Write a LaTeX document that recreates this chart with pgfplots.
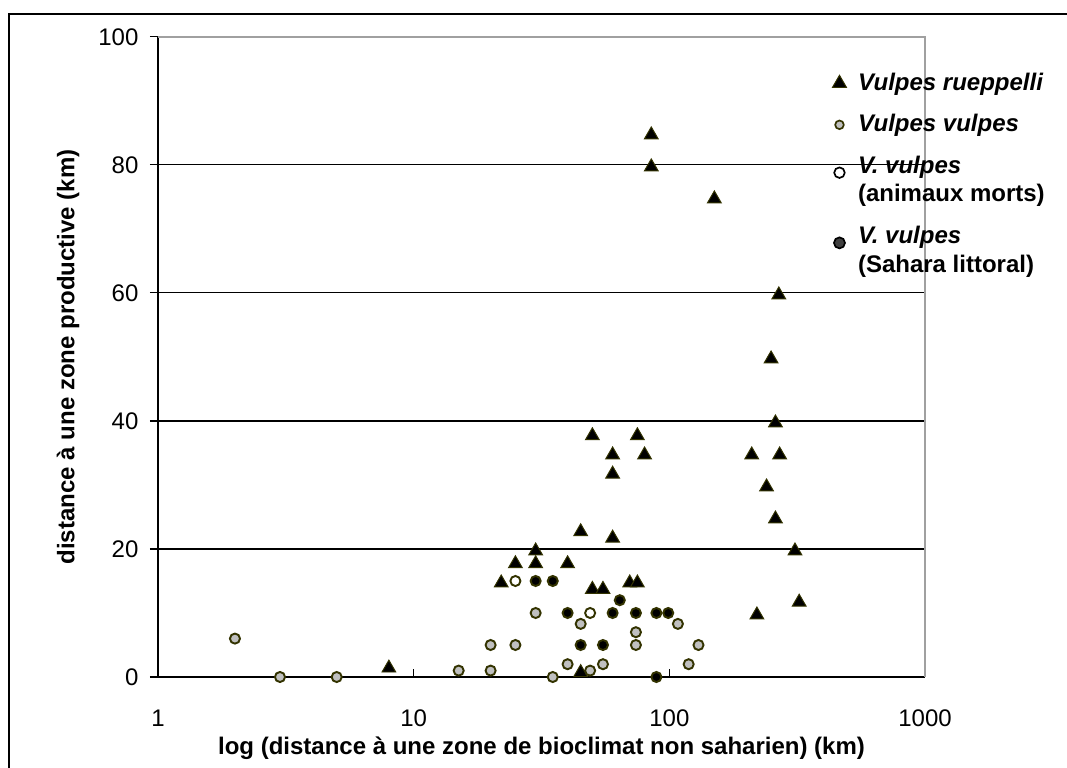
\documentclass[border=0pt]{standalone}
\usepackage{pgfplots}
\pgfplotsset{compat=1.18}
\usepackage{fontspec}
\setmainfont{Liberation Sans}
\definecolor{olivedk}{HTML}{333300}
\definecolor{lgray}{HTML}{C0C0C0}
\definecolor{framegray}{HTML}{A0A0A0}
\pgfplotsset{
  legimg/.style={legend image code/.code={\path[draw=none] (0cm,0cm) (10pt,0cm); \draw[##1,draw=none] plot coordinates {(0.15cm,0cm)};}},
  legimgup/.style={legend image code/.code={\path[draw=none] (0cm,0cm) (10pt,0cm); \draw[yshift=3.3pt,##1,draw=none] plot coordinates {(0.15cm,0cm)};}},
}
\begin{document}
\begin{tikzpicture}
\path[use as bounding box] (-65.83pt,-37.5pt) rectangle (378.75pt,282.08pt);
\draw[line width=0.6pt] (-62.08pt,-45pt) -- (-62.08pt,276.25pt) -- (390pt,276.25pt);
\begin{axis}[
  scale only axis, width=319.6pt, height=266.7pt,
  xmode=log, xmin=1, xmax=1000, ymin=0, ymax=100,
  xtick={1,10,100,1000}, xticklabels={1,10,100,1000},
  xminorticks=false,
  ytick={0,20,40,60,80,100},
  axis lines=left, axis line style={-, line width=0.55pt, black},
  ymajorgrids, grid style={black, line width=0.45pt},
  tick align=outside, major tick length=3.4pt,
  tick style={black, line width=0.45pt},
  xtick style={yshift=3.4pt},
  /pgf/number format/assume math mode=true,
  xticklabel style={yshift=-6.9pt},
  yticklabel style={xshift=-1.25pt},
  clip=false,
  xlabel={\bfseries log (distance à une zone de bioclimat non saharien) (km)},
  ylabel={\bfseries distance à une zone productive (km)},
  every axis x label/.style={at={(axis description cs:0.5,-0.111)}, anchor=center},
  every axis y label/.style={at={(axis description cs:-0.1173,0.5)}, anchor=center, rotate=90},
  legend cell align=left,
  legend style={draw=none, fill=none, at={(axis description cs:0.8745,0.952)}, anchor=north west,
    inner sep=0pt, row sep=4.5pt, cells={align=left}, font=\bfseries},
]
\addplot[forget plot, only marks, mark=triangle*, mark size=3.3pt, mark options={fill=black, draw=olivedk, line width=0.4pt, yshift=-0.8pt}]
coordinates {
(8,1.7) (22,15) (25,18) (30,20) (30,18) (40,18) (45,23) (60,22) (50,14) (55,14)
(70,15) (75,15) (45,1) (50,38) (75,38) (60,35) (80,35) (60,32) (85,85) (85,80)
(150,75) (268,60) (250,50) (260,40) (210,35) (270,35) (240,30) (260,25) (310,20)
(322,12) (220,10)
};
\addplot[forget plot, only marks, mark=*, mark size=2.1pt, mark options={fill=lgray, draw=olivedk, line width=0.8pt}]
coordinates {
(2,6) (3,0) (5,0) (15,1) (20,1) (20,5) (25,5) (30,10) (35,0) (40,2) (45,8.3)
(49,1) (55,2) (74,7) (74,5) (108,8.3) (119,2) (130,5)
};
\addplot[forget plot, only marks, mark=*, mark size=2.1pt, mark options={fill=white, draw=olivedk, line width=0.8pt}]
coordinates {
(25,15) (49,10)
};
\addplot[forget plot, only marks, mark=*, mark size=2.1pt, mark options={fill=black, draw=olivedk, line width=0.8pt}]
coordinates {
(30,15) (35,15) (64,12) (40,10) (60,10) (74,10) (89,10) (99,10) (45,5) (55,5) (89,0)
};
\addlegendimage{mark=triangle*, mark size=3.4pt, mark options={fill=black, draw=olivedk, line width=0.4pt}, legimg}
\addlegendentry{\itshape Vulpes rueppelli}
\addlegendimage{mark=*, mark size=1.8pt, mark options={fill=lgray, draw=olivedk, line width=0.7pt}, legimg}
\addlegendentry{\itshape Vulpes vulpes}
\addlegendimage{mark=*, mark size=2.2pt, mark options={fill=white, draw=black, line width=0.7pt}, legimgup}
\addlegendentry{\itshape V. vulpes\\(animaux morts)}
\addlegendimage{mark=*, mark size=2.3pt, mark options={fill=black!75, draw=black, line width=0.7pt}, legimgup}
\addlegendentry{\itshape V. vulpes\\(Sahara littoral)}
\draw[framegray, line width=0.6pt] (rel axis cs:0,1) -- (rel axis cs:1,1) -- (rel axis cs:1,0);
\end{axis}
\end{tikzpicture}
\end{document}
